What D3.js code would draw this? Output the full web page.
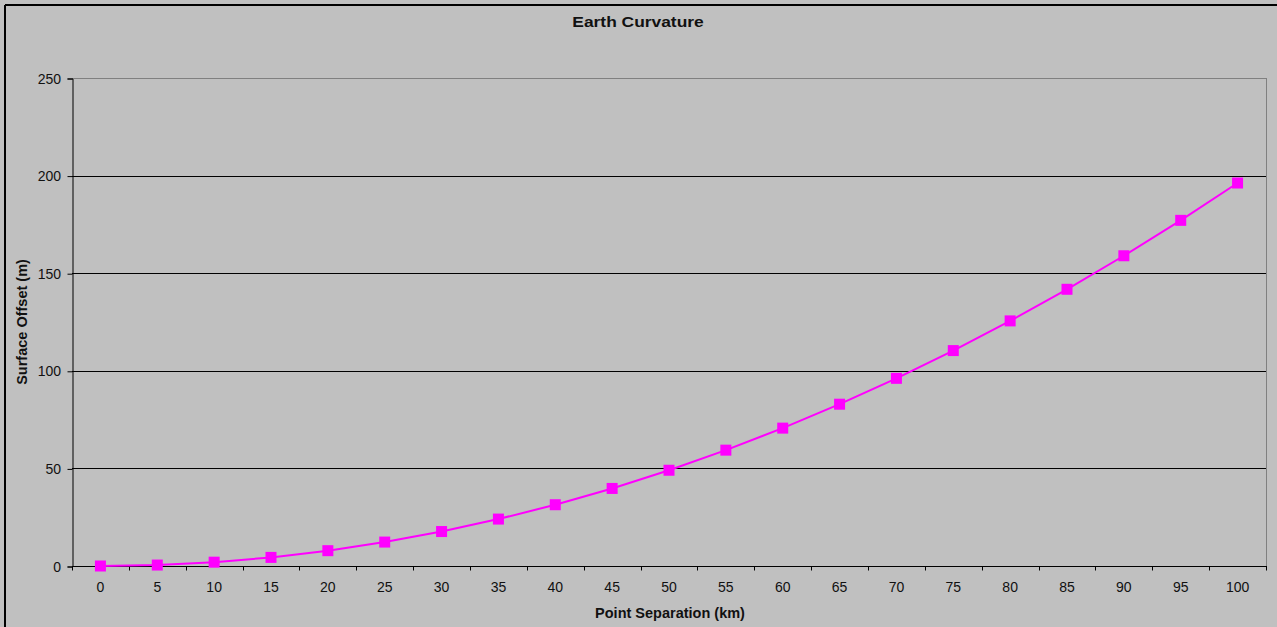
<!DOCTYPE html>
<html>
<head>
<meta charset="utf-8">
<script src="https://cdn.jsdelivr.net/npm/d3@7"></script>
<style>
  html, body { margin: 0; padding: 0; background: #c0c0c0; }
  svg { display: block; }
  text { font-family: "Liberation Sans", Arial, sans-serif; fill: #111; }
</style>
</head>
<body>
<svg id="chart" width="1277" height="627"></svg>
<script>
// Point separation (km) along the x axis
const separations = [0, 5, 10, 15, 20, 25, 30, 35, 40, 45, 50, 55, 60, 65, 70, 75, 80, 85, 90, 95, 100];
// Surface offset (m) for each separation
const offsets = [0, 0.49, 1.96, 4.41, 7.85, 12.26, 17.66, 24.04, 31.39, 39.73, 49.05,
                 59.35, 70.63, 82.89, 96.14, 110.36, 125.57, 141.76, 158.93, 177.08, 196.2];
const yTicks = [0, 50, 100, 150, 200, 250];

const title = "Earth Curvature";
const xTitle = "Point Separation (km)";
const yTitle = "Surface Offset (m)";

const svg = d3.select("#chart");
const W = 1277, H = 627;
const plot = { left: 72, top: 78, right: 1266, bottom: 566 };

// Text label placed at an anchor point, optionally rotated and widened
function label(g, str, px, py, opts) {
  const o = Object.assign({ size: 14, sx: 1, anchor: "middle", weight: "normal", rotate: 0 }, opts || {});
  return g.append("text")
    .attr("transform", `translate(${px},${py}) rotate(${o.rotate}) scale(${o.sx},1)`)
    .attr("text-anchor", o.anchor)
    .attr("font-size", o.size)
    .attr("font-weight", o.weight)
    .text(str);
}

// Outer chart frame (top and left edges)
svg.append("rect").attr("x", 0).attr("y", 0).attr("width", W).attr("height", H).attr("fill", "#c0c0c0");
svg.append("line").attr("x1", 5).attr("x2", W).attr("y1", 5).attr("y2", 5)
  .attr("stroke", "#000").attr("stroke-width", 2);
svg.append("line").attr("x1", 5).attr("x2", 5).attr("y1", 5).attr("y2", H)
  .attr("stroke", "#000").attr("stroke-width", 2);

const x = d3.scaleBand().domain(separations).range([plot.left, plot.right]);
const y = d3.scaleLinear().domain([0, 250]).range([plot.bottom, plot.top]);

// Plot area border (grey, top and right)
svg.append("line").attr("x1", plot.left).attr("x2", plot.right).attr("y1", plot.top + 0.5).attr("y2", plot.top + 0.5)
  .attr("stroke", "#808080").attr("stroke-width", 1);
svg.append("line").attr("x1", plot.right + 0.5).attr("x2", plot.right + 0.5).attr("y1", plot.top).attr("y2", plot.bottom)
  .attr("stroke", "#808080").attr("stroke-width", 1);

// Horizontal gridlines
svg.append("g").selectAll("line").data(yTicks.filter(v => v > 0 && v < 250)).join("line")
  .attr("x1", plot.left).attr("x2", plot.right)
  .attr("y1", d => Math.round(y(d)) + 0.5).attr("y2", d => Math.round(y(d)) + 0.5)
  .attr("stroke", "#000").attr("stroke-width", 1);

// Y axis line and ticks
const yAxis = svg.append("g").attr("transform", `translate(${plot.left + 0.5},0.5)`)
  .call(d3.axisLeft(y).tickValues(yTicks).tickSize(5).tickFormat(""));
yAxis.select(".domain").attr("stroke", "#000");
yAxis.selectAll(".tick line").attr("stroke", "#000");
const yLabels = svg.append("g");
yTicks.forEach(v => label(yLabels, v, 61, y(v) + 5.5, { anchor: "end" }));

// X axis (category axis, ticks at category boundaries)
const xAxisG = svg.append("g").attr("transform", `translate(0,${plot.bottom + 0.5})`);
xAxisG.append("line").attr("x1", plot.left).attr("x2", plot.right + 1).attr("y1", 0).attr("y2", 0)
  .attr("stroke", "#000").attr("stroke-width", 1);
const boundaries = separations.map(d => x(d)).concat([plot.right]);
xAxisG.selectAll("line.tick").data(boundaries).join("line").attr("class", "tick")
  .attr("x1", d => Math.round(d) + 0.5).attr("x2", d => Math.round(d) + 0.5)
  .attr("y1", 0).attr("y2", 4).attr("stroke", "#000");
const cx = d => x(d) + x.bandwidth() / 2;
separations.forEach(s => label(xAxisG, s, cx(s), 25.5));

// Line and markers
const pts = separations.map((s, i) => [cx(s), y(offsets[i])]);
svg.append("path").datum(pts)
  .attr("d", d3.line())
  .attr("fill", "none").attr("stroke", "#ff00ff").attr("stroke-width", 2);
const ms = 11;
svg.append("g").selectAll("rect").data(pts).join("rect")
  .attr("x", d => d[0] - ms / 2).attr("y", d => d[1] - ms / 2)
  .attr("width", ms).attr("height", ms).attr("fill", "#ff00ff");

// Titles
const titles = svg.append("g");
label(titles, title, 638, 27, { size: 14.5, sx: 1.2, weight: "bold" });
label(titles, xTitle, 670, 618, { size: 14.5, weight: "bold" });
label(titles, yTitle, 27, 322, { size: 14.5, weight: "bold", rotate: -90 });
</script>
</body>
</html>
